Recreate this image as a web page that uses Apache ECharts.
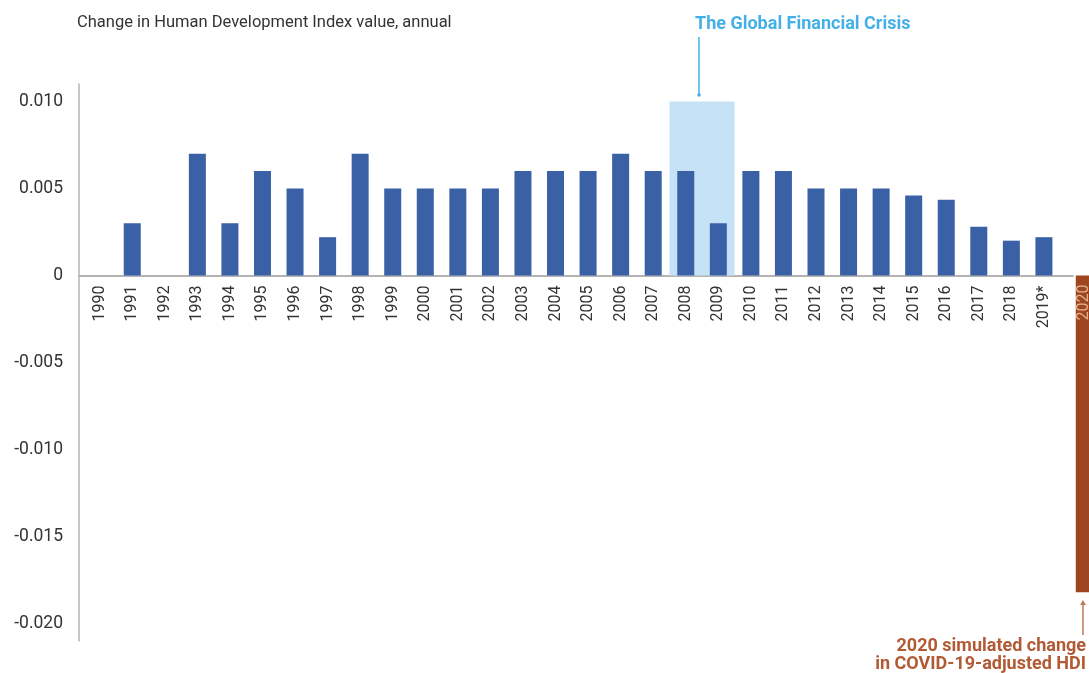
<!DOCTYPE html>
<html>
<head>
<meta charset="utf-8">
<script src="https://cdn.jsdelivr.net/npm/echarts@6/dist/echarts.min.js"></script>
<style>
html,body{margin:0;padding:0;background:#fff;}
#chart{width:1089px;height:673px;}
</style>
</head>
<body>
<div id="chart"></div>
<script>
var years = ['1990','1991','1992','1993','1994','1995','1996','1997','1998','1999',
  '2000','2001','2002','2003','2004','2005','2006','2007','2008','2009',
  '2010','2011','2012','2013','2014','2015','2016','2017','2018','2019*'];
var hdiChange = [0, 0.003, 0, 0.007, 0.003, 0.006, 0.005, 0.0022, 0.007, 0.005,
  0.005, 0.005, 0.005, 0.006, 0.006, 0.006, 0.007, 0.006, 0.006, 0.003,
  0.006, 0.006, 0.005, 0.005, 0.005, 0.0046, 0.00435, 0.0028, 0.002, 0.0022];
var crisisShade = [null,null,null,null,null,null,null,null,null,null,
  null,null,null,null,null,null,null,null,0.010,0.010,
  null,null,null,null,null,null,null,null,null,null];
var covidYear = ['2020'];
var covidChange = [-0.0182];
var yTicks = [-0.020, -0.015, -0.010, -0.005, 0, 0.005, 0.010];

var FONT = 'Roboto, "Noto Sans", sans-serif';
var Y_MIN = -0.021, Y_MAX = 0.011;
var chart = echarts.init(document.getElementById('chart'));
function g(o) { return Object.assign({containLabel: false, outerBoundsMode: 'none'}, o); }
chart.setOption({
  animation: false,
  grid: [
    // positive part: blue bars, x axis labels below the zero line
    g({left: 83.4, width: 976.8, top: 84, height: 191.5}),
    // 2020 bar
    g({left: 1068, width: 32.56, top: 84, height: 557}),
    // full-height frame for the y axis and the zero line
    g({left: 79, width: 994, top: 84, height: 557})
  ],
  xAxis: [
    {type: 'category', gridIndex: 0, data: years,
     axisLine: {show: false}, axisTick: {show: false},
     axisLabel: {rotate: 90, margin: 10, fontSize: 16, color: '#333', fontFamily: FONT, interval: 0}},
    {type: 'category', gridIndex: 0, data: years, show: false},
    {type: 'category', gridIndex: 1, data: covidYear, show: false},
    {type: 'value', gridIndex: 2, min: 0, max: 1,
     axisLine: {show: true, onZero: true, lineStyle: {color: '#b4b4b4', width: 2}},
     axisTick: {show: false}, axisLabel: {show: false}, splitLine: {show: false}}
  ],
  yAxis: [
    {type: 'value', gridIndex: 0, min: 0, max: Y_MAX, show: false},
    {type: 'value', gridIndex: 1, min: Y_MIN, max: Y_MAX, show: false},
    {type: 'value', gridIndex: 2, min: Y_MIN, max: Y_MAX,
     splitLine: {show: false}, axisTick: {show: false},
     axisLine: {show: true, lineStyle: {color: '#b4b4b4', width: 1.5}},
     axisLabel: {customValues: yTicks, margin: 16, fontSize: 17.5, color: '#333', fontFamily: FONT,
       formatter: function (v) { return Math.abs(v) < 1e-9 ? '0' : v.toFixed(3); }}}
  ],
  series: [
    {type: 'bar', xAxisIndex: 1, yAxisIndex: 0, data: crisisShade, barWidth: '100%',
     itemStyle: {color: '#c6e2f6'}, z: 1, silent: true},
    {type: 'bar', xAxisIndex: 0, yAxisIndex: 0, data: hdiChange, barWidth: 17,
     itemStyle: {color: '#3a60a5'}, z: 3},
    {type: 'bar', xAxisIndex: 2, yAxisIndex: 1, data: covidChange, barWidth: 17,
     itemStyle: {color: '#9e4620'}, z: 3,
     label: {show: true, position: 'insideTop', distance: 9, rotate: 90,
       align: 'right', verticalAlign: 'middle',
       formatter: function () { return covidYear[0]; },
       fontSize: 16, color: '#e3b08c', fontFamily: FONT}}
  ],
  graphic: [
    {type: 'text', left: 77, top: 14,
     style: {text: 'Change in Human Development Index value, annual', fontSize: 16.5, fill: '#333', fontFamily: FONT}},
    {type: 'text', left: 695, top: 15,
     style: {text: 'The Global Financial Crisis', fontSize: 18, fontWeight: 'bold', fill: '#45b0e5', fontFamily: FONT}},
    {type: 'line', shape: {x1: 699, y1: 37, x2: 699, y2: 95}, style: {stroke: '#45b0e5', lineWidth: 1.5}},
    {type: 'circle', shape: {cx: 699, cy: 95, r: 1.8}, style: {fill: '#45b0e5'}},
    {type: 'line', shape: {x1: 1083, y1: 603, x2: 1083, y2: 635}, style: {stroke: '#c07a5a', lineWidth: 1.5}},
    {type: 'polygon', shape: {points: [[1080, 605], [1086, 605], [1083, 600]]}, style: {fill: '#c07a5a'}},
    {type: 'text', right: 3, top: 637,
     style: {text: '2020 simulated change', fontSize: 18, fontWeight: 'bold', fill: '#b25a34', fontFamily: FONT, align: 'right'}},
    {type: 'text', right: 3, top: 655,
     style: {text: 'in COVID-19-adjusted HDI', fontSize: 18, fontWeight: 'bold', fill: '#b25a34', fontFamily: FONT, align: 'right'}}
  ]
});
</script>
</body>
</html>
